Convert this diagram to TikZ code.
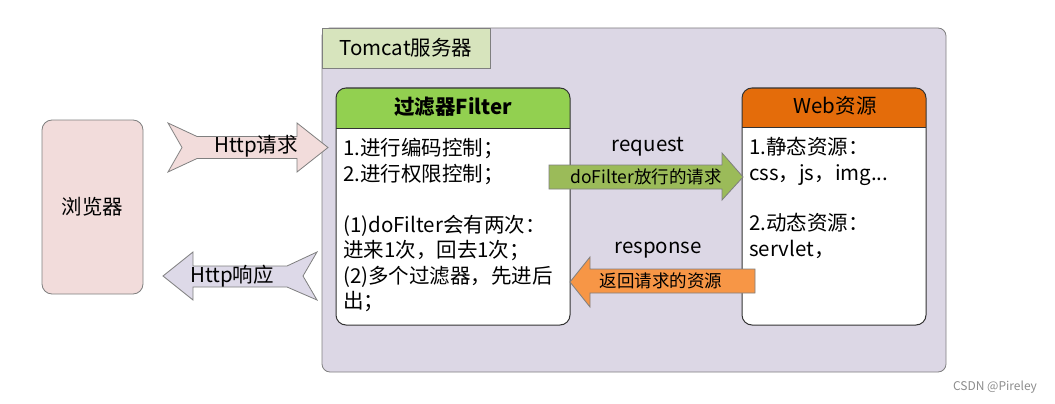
\documentclass[tikz,border=0pt]{standalone}
\usepackage{fontspec}
\setmainfont{Noto Sans CJK SC}
\definecolor{browserfill}{HTML}{F2DCDB}
\definecolor{tomcatfill}{HTML}{DCD7E5}
\definecolor{respfill}{HTML}{DDD9E8}
\definecolor{labelfill}{HTML}{D7E4BD}
\definecolor{filterhead}{HTML}{92D050}
\definecolor{webhead}{HTML}{E46C0A}
\definecolor{reqfill}{HTML}{9BBB59}
\definecolor{resfill}{HTML}{F79646}
\definecolor{edgegray}{HTML}{7F7F7F}
\definecolor{edgedark}{HTML}{333333}
\tikzset{
  txt/.style={inner sep=0pt, font=\fontsize{20.5}{25}\selectfont},
  smalltxt/.style={inner sep=0pt, font=\fontsize{17.5}{22}\selectfont},
  bodytxt/.style={inner sep=0pt, anchor=north west, align=left, font=\fontsize{20.5}{25.5}\selectfont},
  graybox/.style={draw=edgegray, line width=0.8pt},
  panel/.style={draw=edgedark, line width=1pt, rounded corners=10pt},
  bigarrow/.style={draw=edgegray, line width=0.8pt, line join=miter},
}
\begin{document}
\begin{tikzpicture}[x=1pt,y=-1pt]
\useasboundingbox (0,0) rectangle (1055,404);
% container
\node[graybox, fill=tomcatfill, rounded corners=8pt, minimum width=624pt, minimum height=344pt] (tomcat) at (634,200) {};
\node[graybox, fill=labelfill, minimum width=168pt, minimum height=40pt, txt] (tomcatlabel) at (406,48) {Tomcat服务器};
% browser
\node[graybox, fill=browserfill, rounded corners=10pt, minimum width=101pt, minimum height=174pt, txt] (browser) at (92.5,207) {浏览器};
% filter panel
\fill[white, rounded corners=10pt] (336,88) rectangle (570,325);
\fill[filterhead] (336,128) [rounded corners=10pt] -- (336,88) -- (570,88) [sharp corners] -- (570,128) -- cycle;
\node[panel, minimum width=234pt, minimum height=237pt] (filter) at (453,206.5) {};
\draw[edgedark, line width=1pt] (336,128) -- (570,128);
\node[txt, font=\fontsize{20.5}{25}\selectfont\bfseries] (filtertitle) at (453,107) {过滤器Filter};
\node[bodytxt] (filterbody) at (343,138) {1.进行编码控制；\\2.进行权限控制；\\[25.5pt](1)doFilter会有两次：\\进来1次，回去1次；\\(2)多个过滤器，先进后\\出；};
% web panel
\fill[white, rounded corners=10pt] (742,88) rectangle (926,325);
\fill[webhead] (742,127) [rounded corners=10pt] -- (742,88) -- (926,88) [sharp corners] -- (926,127) -- cycle;
\node[panel, minimum width=184pt, minimum height=237pt] (web) at (834,206.5) {};
\draw[edgedark, line width=1pt] (742,127) -- (926,127);
\node[txt] (webtitle) at (835,106) {Web资源};
\node[bodytxt] (webbody) at (749,137) {1.静态资源：\\css，js，img...\\[25pt]2.动态资源：\\servlet，};
% Http request arrow
\draw[bigarrow, fill=browserfill] (168,123) -- (197,136.5) -- (297,136.5) -- (297,123) -- (328,147.5) -- (297,172) -- (297,158.5) -- (197,158.5) -- (168,172) -- (182,147.5) -- cycle;
\node[txt] (httpreq) at (256,146) {Http请求};
% Http response arrow
\draw[bigarrow, fill=respfill] (163,276) -- (193,252) -- (193,266) -- (287,266) -- (317,252) -- (303,276) -- (317,300) -- (287,287) -- (193,287) -- (193,300) -- cycle;
\node[txt] (httpresp) at (232,276) {Http响应};
% request arrow
\draw[bigarrow, fill=reqfill] (549,165) -- (722,165) -- (722,153) -- (743,177) -- (722,200) -- (722,189) -- (549,189) -- cycle;
\node[smalltxt] (reqlabel) at (646,177) {doFilter放行的请求};
\node[txt] (reqword) at (648,147) {request};
% response arrow
\draw[bigarrow, fill=resfill] (755,269) -- (590,269) -- (590,257) -- (570,282) -- (590,307) -- (590,293) -- (755,293) -- cycle;
\node[smalltxt] (reslabel) at (661,281) {返回请求的资源};
\node[txt] (resword) at (658,250) {response};
% watermark
\node[inner sep=0pt, text=black!45, font=\fontsize{12}{14}\selectfont] (mark) at (995,387) {CSDN @Pireley};
\end{tikzpicture}
\end{document}
